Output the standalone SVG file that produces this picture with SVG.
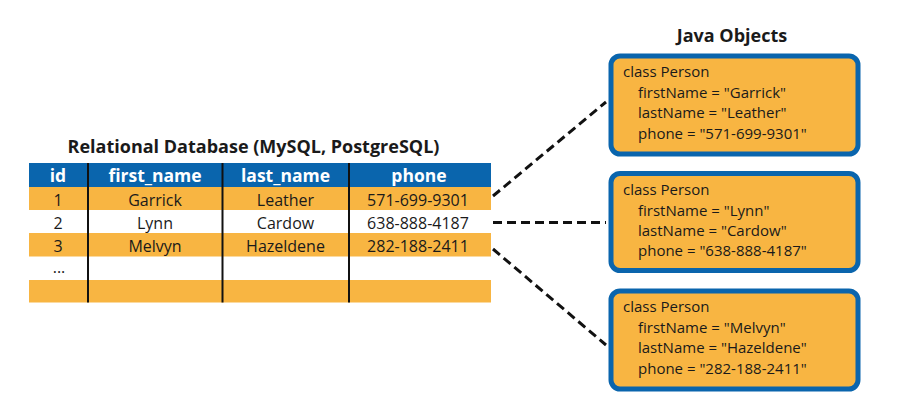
<svg xmlns="http://www.w3.org/2000/svg" width="908" height="420" viewBox="0 0 908 420">
<style>
text{font-family:"Open Sans","Noto Sans","Liberation Sans",sans-serif;fill:#1a1a1a}
.title{font-weight:bold;font-size:18px;text-anchor:middle}
.hd{font-weight:bold;font-size:17.5px;fill:#fff;text-anchor:middle}
.cell{font-size:16px;text-anchor:middle}
.obj{font-size:15px}
.box{fill:#f8b542;stroke:#0a65ad;stroke-width:5}
.org{fill:#f8b542}
.col{stroke:#111;stroke-width:2}
.conn{stroke:#111;stroke-width:3;stroke-dasharray:9 5;fill:none}
</style>
<rect width="908" height="420" fill="#fff"/>
<g id="database">
<text class="title" x="253.5" y="153">Relational Database (MySQL, PostgreSQL)</text>
<rect x="29" y="163" width="462" height="24" fill="#0a65ad"/>
<rect class="org" x="29" y="187" width="462" height="23"/>
<rect class="org" x="29" y="233" width="462" height="23.5"/>
<rect class="org" x="29" y="280" width="462" height="22.5"/>
<line class="col" x1="88" y1="163" x2="88" y2="302.5"/>
<line class="col" x1="222.5" y1="163" x2="222.5" y2="302.5"/>
<line class="col" x1="349" y1="163" x2="349" y2="302.5"/>
<text class="hd" x="58" y="182">id</text>
<text class="hd" x="155" y="182">first_name</text>
<text class="hd" x="285.5" y="182">last_name</text>
<text class="hd" x="419" y="182">phone</text>
<text class="cell" x="58" y="205.5">1</text>
<text class="cell" x="155" y="205.5">Garrick</text>
<text class="cell" x="285.5" y="205.5">Leather</text>
<text class="cell" x="418" y="205.5">571-699-9301</text>
<text class="cell" x="58" y="228.5">2</text>
<text class="cell" x="155" y="228.5">Lynn</text>
<text class="cell" x="285.5" y="228.5">Cardow</text>
<text class="cell" x="418" y="228.5">638-888-4187</text>
<text class="cell" x="58" y="251.5">3</text>
<text class="cell" x="155" y="251.5">Melvyn</text>
<text class="cell" x="285.5" y="251.5">Hazeldene</text>
<text class="cell" x="418" y="251.5">282-188-2411</text>
<text class="cell" x="59" y="273">...</text>
</g>
<text class="title" x="732" y="42">Java Objects</text>
<g id="connectors">
<line class="conn" x1="493" y1="196" x2="606" y2="102"/>
<line class="conn" x1="493" y1="222.5" x2="606" y2="222.5"/>
<line class="conn" x1="493" y1="249" x2="606" y2="345"/>
</g>
<g id="obj1">
<rect class="box" x="611" y="56" width="247" height="98" rx="9"/>
<text class="obj" x="623" y="77">class Person</text>
<text class="obj" x="638" y="97.5">firstName = "Garrick"</text>
<text class="obj" x="638" y="118">lastName = "Leather"</text>
<text class="obj" x="638" y="138.5">phone = "571-699-9301"</text>
</g>
<g id="obj2">
<rect class="box" x="611" y="173.5" width="247" height="97" rx="9"/>
<text class="obj" x="623" y="195">class Person</text>
<text class="obj" x="638" y="215.5">firstName = "Lynn"</text>
<text class="obj" x="638" y="236">lastName = "Cardow"</text>
<text class="obj" x="638" y="256">phone = "638-888-4187"</text>
</g>
<g id="obj3">
<rect class="box" x="611" y="291" width="247" height="98" rx="9"/>
<text class="obj" x="623" y="312">class Person</text>
<text class="obj" x="638" y="332.5">firstName = "Melvyn"</text>
<text class="obj" x="638" y="353">lastName = "Hazeldene"</text>
<text class="obj" x="638" y="373.5">phone = "282-188-2411"</text>
</g>
</svg>
